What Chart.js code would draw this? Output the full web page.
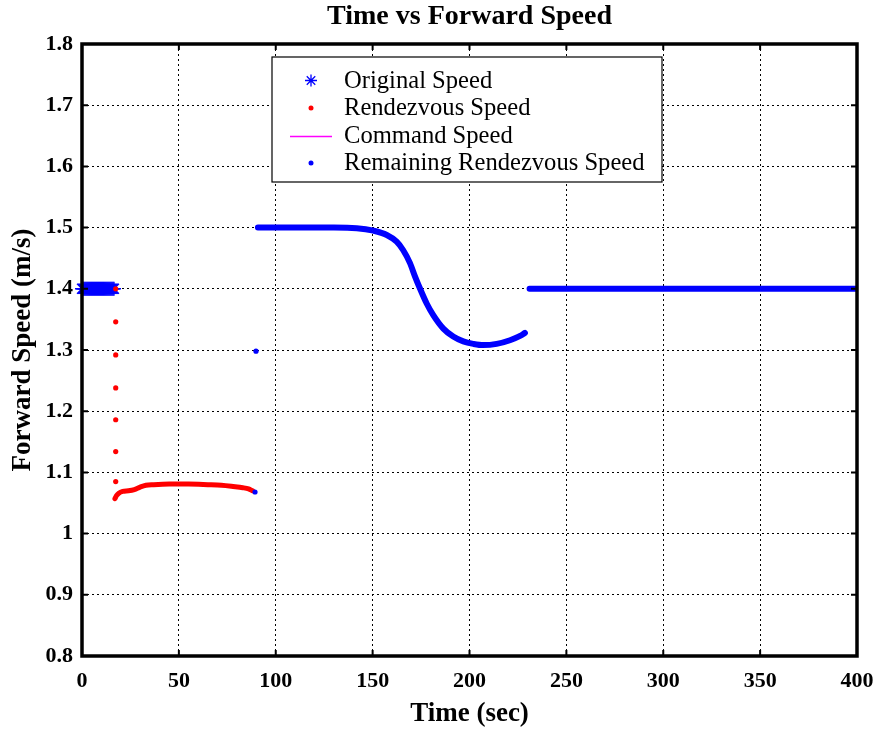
<!DOCTYPE html>
<html>
<head>
<meta charset="utf-8">
<title>Time vs Forward Speed</title>
<script src="https://cdn.jsdelivr.net/npm/chart.js@4.4.1/dist/chart.umd.min.js"></script>
<style>
  html, body { margin: 0; padding: 0; background: #ffffff; }
  #wrap { width: 880px; height: 730px; }
</style>
</head>
<body>
<div id="wrap"><canvas id="chart" width="880" height="730"></canvas></div>
<script>
// Tick labels
const xTickLabels = ['0', '50', '100', '150', '200', '250', '300', '350', '400'];
const yTickLabels = ['0.8', '0.9', '1', '1.1', '1.2', '1.3', '1.4', '1.5', '1.6', '1.7', '1.8'];

// Original speed (asterisks) held before the rendezvous starts
const originalTime = [0, 0.5, 1, 1.5, 2, 2.5, 3, 3.5, 4, 4.5, 5, 5.5, 6, 6.5, 7, 7.5, 8,
  8.5, 9, 9.5, 10, 10.5, 11, 11.5, 12, 12.5, 13, 13.5, 14, 14.5, 15, 15.5, 16, 16.5];
const originalSpeed = [1.4, 1.4, 1.4, 1.4, 1.4, 1.4, 1.4, 1.4, 1.4, 1.4, 1.4, 1.4, 1.4, 1.4,
  1.4, 1.4, 1.4, 1.4, 1.4, 1.4, 1.4, 1.4, 1.4, 1.4, 1.4, 1.4, 1.4, 1.4, 1.4, 1.4, 1.4, 1.4,
  1.4, 1.4];

// Rendezvous speed: step-down samples, then the slow rendezvous run
const rendezvousStepTime = [17.4, 17.4, 17.4, 17.4, 17.4, 17.4, 17.4];
const rendezvousStepSpeed = [1.4, 1.346, 1.292, 1.238, 1.186, 1.134, 1.085];
const rendezvousTime = [17.0, 17.8, 19, 21, 24, 27, 30, 33, 37, 45, 55, 65, 72, 78, 83, 86, 88];
const rendezvousSpeed = [1.057, 1.062, 1.066, 1.069, 1.070, 1.072, 1.076, 1.079, 1.080,
  1.081, 1.081, 1.080, 1.079, 1.077, 1.075, 1.073, 1.070];

// Command speed (legend entry)
const commandTime = [];
const commandSpeed = [];

// Remaining rendezvous speed: isolated samples, transition curve, final cruise
const remainingDotTime = [89.8, 89.3];
const remainingDotSpeed = [1.298, 1.068];
const remainingTime = [90.8, 110, 130, 141.8, 150.4, 157.3, 162.4, 165.8, 169.3, 171.9, 174.5,
  177.9, 181.3, 186.5, 191.6, 196.8, 202, 207.1, 214, 220.9, 226.1, 228.6];
const remainingSpeed = [1.5, 1.5, 1.5, 1.499, 1.495, 1.488, 1.477, 1.463, 1.442, 1.420, 1.400,
  1.376, 1.357, 1.335, 1.322, 1.314, 1.310, 1.308, 1.310, 1.316, 1.323, 1.328];
const cruiseTime = [231, 400];
const cruiseSpeed = [1.4, 1.4];

const zip = (xs, ys) => xs.map((x, i) => ({ x: x, y: ys[i] }));

const BLUE = '#0000ff';
const RED = '#ff0000';
const MAGENTA = '#ff00ff';
const SERIF = '"Liberation Serif", "Times New Roman", Times, serif';

// Title centred over the plot area
const titlePlugin = {
  id: 'plotTitle',
  afterDraw(chart) {
    const { ctx, chartArea: a } = chart;
    ctx.save();
    ctx.fillStyle = '#000';
    ctx.font = 'bold 28px ' + SERIF;
    ctx.textAlign = 'center';
    ctx.textBaseline = 'middle';
    ctx.fillText('Time vs Forward Speed', (a.left + a.right) / 2, 17);
    ctx.restore();
  }
};

// Chart frame with inward tick marks
const framePlugin = {
  id: 'frame',
  afterDraw(chart) {
    const { ctx, chartArea: a, scales } = chart;
    ctx.save();
    ctx.strokeStyle = '#000';
    ctx.lineWidth = 2;
    const tl = 6;
    scales.x.ticks.forEach(t => {
      const px = scales.x.getPixelForValue(t.value);
      ctx.beginPath();
      ctx.moveTo(px, a.bottom); ctx.lineTo(px, a.bottom - tl);
      ctx.moveTo(px, a.top); ctx.lineTo(px, a.top + tl);
      ctx.stroke();
    });
    scales.y.ticks.forEach(t => {
      const py = scales.y.getPixelForValue(t.value);
      ctx.beginPath();
      ctx.moveTo(a.left, py); ctx.lineTo(a.left + tl, py);
      ctx.moveTo(a.right, py); ctx.lineTo(a.right - tl, py);
      ctx.stroke();
    });
    ctx.lineWidth = 3.5;
    ctx.strokeRect(a.left, a.top, a.right - a.left, a.bottom - a.top);
    ctx.restore();
  }
};

// Boxed legend inside the plot area
const legendPlugin = {
  id: 'boxLegend',
  afterDraw(chart) {
    const ctx = chart.ctx;
    const box = { left: 272, top: 57, right: 662, bottom: 182 };
    ctx.save();
    ctx.fillStyle = '#fff';
    ctx.fillRect(box.left, box.top, box.right - box.left, box.bottom - box.top);
    ctx.strokeStyle = '#000';
    ctx.lineWidth = 1.2;
    ctx.strokeRect(box.left, box.top, box.right - box.left, box.bottom - box.top);

    const entries = [
      { text: 'Original Speed', kind: 'star', color: BLUE },
      { text: 'Rendezvous Speed', kind: 'dot', color: RED },
      { text: 'Command Speed', kind: 'line', color: MAGENTA },
      { text: 'Remaining Rendezvous Speed', kind: 'dot', color: BLUE }
    ];
    const rowY = [80.5, 108, 135.5, 163];
    const mx = 311;
    ctx.font = '24.6px ' + SERIF;
    ctx.textBaseline = 'middle';
    ctx.textAlign = 'left';
    entries.forEach((e, i) => {
      const y = rowY[i];
      ctx.strokeStyle = e.color;
      ctx.fillStyle = e.color;
      if (e.kind === 'star') {
        ctx.lineWidth = 1.3;
        const r = 6;
        ctx.beginPath();
        for (let k = 0; k < 4; k++) {
          const ang = k * Math.PI / 4;
          ctx.moveTo(mx - r * Math.cos(ang), y - r * Math.sin(ang));
          ctx.lineTo(mx + r * Math.cos(ang), y + r * Math.sin(ang));
        }
        ctx.stroke();
      } else if (e.kind === 'dot') {
        ctx.beginPath();
        ctx.arc(mx, y, 2.5, 0, Math.PI * 2);
        ctx.fill();
      } else {
        ctx.lineWidth = 1.4;
        ctx.beginPath();
        ctx.moveTo(290, Math.round(y) + 0.5); ctx.lineTo(332, Math.round(y) + 0.5);
        ctx.stroke();
      }
      ctx.fillStyle = '#000';
      ctx.fillText(e.text, 344, y + 1);
    });
    ctx.restore();
  }
};

new Chart(document.getElementById('chart'), {
  type: 'scatter',
  data: {
    datasets: [
      {
        label: 'Original Speed',
        data: zip(originalTime, originalSpeed),
        pointStyle: 'star',
        pointRadius: 7,
        borderColor: BLUE,
        backgroundColor: BLUE,
        pointBorderWidth: 1.4,
        showLine: false,
        clip: false,
        order: 5
      },
      {
        label: 'Rendezvous Speed',
        data: zip(rendezvousStepTime, rendezvousStepSpeed),
        pointStyle: 'circle',
        pointRadius: 2.6,
        borderColor: RED,
        backgroundColor: RED,
        borderWidth: 0,
        showLine: false,
        order: 2
      },
      {
        label: 'Rendezvous Speed',
        data: zip(rendezvousTime, rendezvousSpeed),
        showLine: true,
        pointRadius: 0,
        borderColor: RED,
        borderWidth: 5,
        borderCapStyle: 'round',
        borderJoinStyle: 'round',
        cubicInterpolationMode: 'monotone',
        order: 3
      },
      {
        label: 'Command Speed',
        data: zip(commandTime, commandSpeed),
        showLine: true,
        pointRadius: 0,
        borderColor: MAGENTA,
        borderWidth: 1,
        order: 4
      },
      {
        label: 'Remaining Rendezvous Speed',
        data: zip(remainingTime, remainingSpeed),
        showLine: true,
        pointRadius: 0,
        borderColor: BLUE,
        borderWidth: 6,
        borderCapStyle: 'round',
        borderJoinStyle: 'round',
        cubicInterpolationMode: 'monotone',
        order: 1
      },
      {
        label: 'Remaining Rendezvous Speed',
        data: zip(cruiseTime, cruiseSpeed),
        showLine: true,
        pointRadius: 0,
        borderColor: BLUE,
        borderWidth: 6,
        borderCapStyle: 'round',
        order: 1
      },
      {
        label: 'Remaining Rendezvous Speed',
        data: zip(remainingDotTime, remainingDotSpeed),
        pointStyle: 'circle',
        pointRadius: 2.6,
        borderColor: BLUE,
        backgroundColor: BLUE,
        borderWidth: 0,
        showLine: false,
        order: 0
      }
    ]
  },
  options: {
    responsive: false,
    animation: false,
    events: [],
    layout: { padding: { top: 44, right: 23, left: 0, bottom: 0 } },
    plugins: {
      legend: { display: false },
      tooltip: { enabled: false },
      title: { display: false }
    },
    scales: {
      x: {
        type: 'linear',
        min: 0,
        max: 400,
        afterFit(scale) {
          scale.height = 74;
          scale.paddingLeft = 0;
          scale.paddingRight = 0;
        },
        afterBuildTicks(scale) {
          scale.ticks = xTickLabels.map(l => ({ value: Number(l) }));
        },
        ticks: {
          autoSkip: false,
          maxRotation: 0,
          color: '#000',
          padding: 12,
          font: { family: SERIF, size: 22, weight: 'bold' },
          callback: (v, i) => xTickLabels[i]
        },
        grid: { color: '#000', lineWidth: 1, drawTicks: false },
        border: { display: false, dash: [2, 3] },
        title: {
          display: true,
          text: 'Time (sec)',
          color: '#000',
          font: { family: SERIF, size: 27, weight: 'bold' },
          padding: { top: 0, bottom: 0 }
        }
      },
      y: {
        type: 'linear',
        min: 0.8,
        max: 1.8,
        afterFit(scale) {
          scale.width = 82;
          scale.paddingTop = 0;
          scale.paddingBottom = 0;
        },
        afterBuildTicks(scale) {
          scale.ticks = yTickLabels.map(l => ({ value: Number(l) }));
        },
        ticks: {
          autoSkip: false,
          color: '#000',
          padding: 9,
          font: { family: SERIF, size: 22, weight: 'bold' },
          callback: (v, i) => yTickLabels[i]
        },
        grid: { color: '#000', lineWidth: 1, drawTicks: false },
        border: { display: false, dash: [2, 3] },
        title: {
          display: true,
          text: 'Forward Speed (m/s)',
          color: '#000',
          font: { family: SERIF, size: 27, weight: 'bold' },
          padding: { top: 7, bottom: 0 }
        }
      }
    }
  },
  plugins: [framePlugin, legendPlugin, titlePlugin]
});
</script>
</body>
</html>
